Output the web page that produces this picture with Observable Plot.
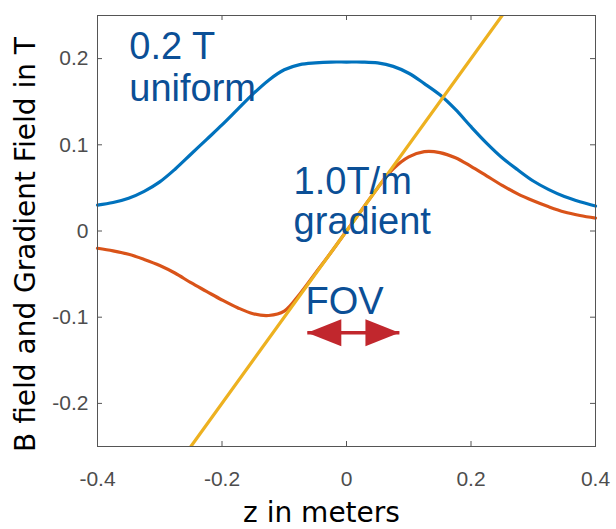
<!DOCTYPE html>
<html>
<head>
<meta charset="utf-8">
<script src="https://cdn.jsdelivr.net/npm/d3@7"></script>
<script src="https://cdn.jsdelivr.net/npm/@observablehq/plot@0.6"></script>
<style>
  html, body { margin: 0; padding: 0; background: #fff; }
</style>
</head>
<body>
<div id="chart"></div>
<script>
// ---- data ----
const zValues = [-0.4, -0.375, -0.35, -0.325, -0.3, -0.275, -0.25, -0.225, -0.2, -0.175, -0.15, -0.125, -0.1, -0.075, -0.05, -0.025, 0,
                 0.025, 0.05, 0.075, 0.1, 0.125, 0.15, 0.175, 0.2, 0.225, 0.25, 0.275, 0.3, 0.325, 0.35, 0.375, 0.4];
const bUniform = [0.030, 0.033, 0.038, 0.046, 0.057, 0.072, 0.089, 0.106, 0.123, 0.141, 0.159, 0.175, 0.187, 0.193, 0.195, 0.196, 0.196,
                  0.196, 0.195, 0.191, 0.183, 0.171, 0.158, 0.141, 0.121, 0.102, 0.085, 0.071, 0.058, 0.048, 0.040, 0.034, 0.029];
const bGradientCoil = [-0.020, -0.023, -0.027, -0.033, -0.040, -0.049, -0.060, -0.070, -0.080, -0.089, -0.096, -0.098, -0.093, -0.073, -0.049, -0.025, 0.000,
                       0.025, 0.050, 0.072, 0.086, 0.092, 0.091, 0.085, 0.075, 0.064, 0.053, 0.043, 0.035, 0.028, 0.022, 0.018, 0.015];
const idealZ = [-0.25, 0.25];
const idealB = [-0.25, 0.25];

const xTicks = [-0.4, -0.2, 0, 0.2, 0.4];
const yTicks = [-0.2, -0.1, 0, 0.1, 0.2];

const labelText = ["0.2 T", "uniform", "1.0T/m", "gradient", "FOV"];
const labelZ = [-0.349, -0.349, -0.085, -0.085, -0.066];
const labelB = [0.199, 0.151, 0.043, -0.003, -0.096];

const fovZ = [-0.063, 0.085];
const fovB = -0.118;

const xTitle = "z in meters";
const yTitle = "B field and Gradient Field in T";

// ---- marks ----
const blueSeries = zValues.map((z, i) => ({z, b: bUniform[i]}));
const redSeries = zValues.map((z, i) => ({z, b: bGradientCoil[i]}));
const yellowSeries = idealZ.map((z, i) => ({z, b: idealB[i]}));
const labels = labelText.map((t, i) => ({t, z: labelZ[i], b: labelB[i]}));

const headRight = {draw(ctx) { ctx.moveTo(0, 0); ctx.lineTo(-34, -13.5); ctx.lineTo(-34, 13.5); ctx.closePath(); }};
const headLeft = {draw(ctx) { ctx.moveTo(0, 0); ctx.lineTo(34, -13.5); ctx.lineTo(34, 13.5); ctx.closePath(); }};

const W = 616, H = 529, mL = 97, mR = 21, mT = 15, mB = 83;
const fw = W - mL - mR, fh = H - mT - mB;
const fmt = d => String(d);
const arrowColor = "#C1272D";
const textBlue = "#0B4F96";

const chart = Plot.plot({
  width: W, height: H,
  marginLeft: mL, marginRight: mR, marginTop: mT, marginBottom: mB,
  x: {domain: [-0.4, 0.4]},
  y: {domain: [-0.25, 0.25]},
  style: {fontFamily: "Liberation Sans, Arial, sans-serif", background: "white"},
  marks: [
    Plot.axisX({ticks: xTicks, anchor: "bottom", tickSize: 0, tickPadding: 25, fontSize: 21, color: "#4d4d4d", tickFormat: fmt, label: null}),
    Plot.axisY({ticks: yTicks, anchor: "left", tickSize: 0, tickPadding: 9, fontSize: 21, color: "#4d4d4d", tickFormat: fmt, label: null}),
    Plot.tickX(xTicks, {x: d => d, insetTop: fh - 5, stroke: "#555"}),
    Plot.tickX(xTicks, {x: d => d, insetBottom: fh - 5, stroke: "#555"}),
    Plot.tickY(yTicks, {y: d => d, insetRight: fw - 5, stroke: "#555"}),
    Plot.tickY(yTicks, {y: d => d, insetLeft: fw - 5, stroke: "#555"}),
    Plot.line(blueSeries, {x: "z", y: "b", stroke: "#0072BD", strokeWidth: 3.2, curve: "catmull-rom"}),
    Plot.line(redSeries, {x: "z", y: "b", stroke: "#D95319", strokeWidth: 3.2, curve: "catmull-rom"}),
    Plot.line(yellowSeries, {x: "z", y: "b", stroke: "#EDB120", strokeWidth: 3.2, clip: true}),
    Plot.text(labels, {x: "z", y: "b", text: "t", textAnchor: "start", lineAnchor: "bottom", fontSize: 38, fill: textBlue}),
    Plot.link([fovZ], {x1: d => d[0], x2: d => d[1], y1: () => fovB, y2: () => fovB, stroke: arrowColor, strokeWidth: 3.5}),
    Plot.dot([fovZ[1]], {x: d => d, y: () => fovB, symbol: headRight, fill: arrowColor, stroke: "none"}),
    Plot.dot([fovZ[0]], {x: d => d, y: () => fovB, symbol: headLeft, fill: arrowColor, stroke: "none"}),
    Plot.frame({stroke: "#555", strokeWidth: 1}),
    Plot.text([xTitle], {frameAnchor: "bottom", dx: -25, dy: 75, lineAnchor: "bottom", text: d => d, fontSize: 28, fontFamily: "DejaVu Sans", fill: "black"}),
    Plot.text([yTitle], {frameAnchor: "left", rotate: -90, dx: -63, dy: 13.5, lineAnchor: "bottom", textAnchor: "middle", text: d => d, fontSize: 28, fontFamily: "DejaVu Sans", fill: "black"})
  ]
});
document.getElementById("chart").appendChild(chart);
</script>
</body>
</html>
